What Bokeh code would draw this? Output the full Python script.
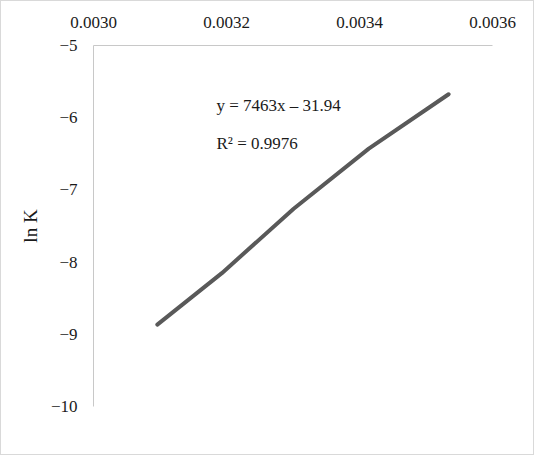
from bokeh.plotting import figure
from bokeh.models import Range1d, FixedTicker, CustomJSTickFormatter, Label
from bokeh.embed import file_html
from bokeh.resources import INLINE

# data
inv_T = [0.003096, 0.003193, 0.003301, 0.003414, 0.003534]
ln_K = [-8.866, -8.153, -7.261, -6.429, -5.675]
x_ticks = [0.0030, 0.0032, 0.0034, 0.0036]
y_ticks = [-10, -9, -8, -7, -6, -5]
eq_text = "y = 7463x \u2013 31.94"
r2_text = "R\u00b2 = 0.9976"

FONT = "Liberation Serif"

p = figure(width=534, height=455, output_backend="svg", toolbar_location=None,
           x_axis_location="above",
           x_range=Range1d(0.0030, 0.0036), y_range=Range1d(-10, -5),
           min_border_left=92, min_border_right=43, min_border_top=44, min_border_bottom=50)
p.styles = {"border": "1px solid #d9d9d9"}
p.outline_line_color = None
p.xgrid.visible = False
p.ygrid.visible = False

p.line(inv_T, ln_K, line_color="#595959", line_width=4, line_cap="round", line_join="round")

for ax in (p.xaxis[0], p.yaxis[0]):
    ax.axis_line_color = "#c8c8c8"
    ax.axis_line_width = 1
    ax.major_tick_line_color = None
    ax.minor_tick_line_color = None
    ax.major_tick_in = 0
    ax.major_tick_out = 0
    ax.major_label_text_font = FONT
    ax.major_label_text_font_size = "17px"
    ax.major_label_text_color = "#1a1a1a"

p.xaxis[0].ticker = FixedTicker(ticks=x_ticks)
p.xaxis[0].formatter = CustomJSTickFormatter(code="return tick.toFixed(4);")
p.xaxis[0].major_label_standoff = 18

p.yaxis[0].ticker = FixedTicker(ticks=y_ticks)
p.yaxis[0].formatter = CustomJSTickFormatter(
    code="return tick < 0 ? '\\u2212' + Math.abs(tick).toFixed(0) : tick.toFixed(0);")
p.yaxis[0].major_label_standoff = 16
p.yaxis[0].axis_label = "ln K"
p.yaxis[0].axis_label_text_font = FONT
p.yaxis[0].axis_label_text_font_size = "19px"
p.yaxis[0].axis_label_text_font_style = "normal"
p.yaxis[0].axis_label_text_color = "#1a1a1a"
p.yaxis[0].axis_label_standoff = 7

p.add_layout(Label(x=0.003185, y=-5.832, text=eq_text, text_font=FONT, text_font_size="17px",
                   text_baseline="middle", text_align="left", text_color="#1a1a1a"))
p.add_layout(Label(x=0.003185, y=-6.36, text=r2_text, text_font=FONT, text_font_size="17px",
                   text_baseline="middle", text_align="left", text_color="#1a1a1a"))
p.add_layout(Label(x=0.003296, y=-10.243, text="1/T", text_font=FONT, text_font_size="20px",
                   text_baseline="middle", text_align="center", text_color="#1a1a1a"))

open("out.html", "w").write(file_html(p, INLINE))
